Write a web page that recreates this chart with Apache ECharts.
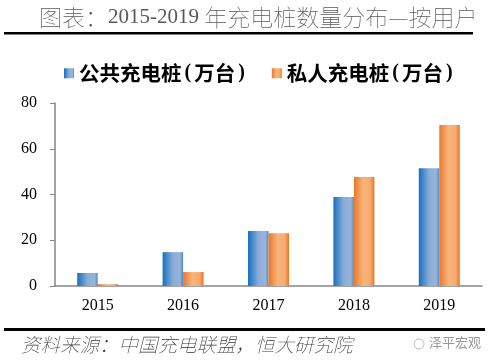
<!DOCTYPE html>
<html><head><meta charset="utf-8">
<script src="https://cdn.jsdelivr.net/npm/echarts@6/dist/echarts.min.js"></script>
<style>html,body{margin:0;padding:0;background:#fff;}#c{width:489px;height:362px;}</style>
</head><body><div id="c"></div>
<script>
const categories = ['2015', '2016', '2017', '2018', '2019'];
const publicPiles = [5.7, 14.8, 24.0, 38.9, 51.5];
const privatePiles = [0.8, 6.1, 23.1, 47.6, 70.4];
const seriesNames = ['公共充电桩(万台)', '私人充电桩(万台)'];
const yTicks = { min: 0, max: 80, interval: 20 };
const titleParts = ['图表：', '2015-2019 ', '年充电桩数量分布—按用户'];
const sourceText = '资料来源：中国充电联盟，恒大研究院';
const watermark = '泽平宏观';

const serif = '"Liberation Serif","Times New Roman","Noto Sans CJK SC",serif';
const cjk = '"Noto Sans CJK SC",sans-serif';
function grad(stops){
  return new echarts.graphic.LinearGradient(0,0,1,0, stops.map(c=>({offset:c[0],color:c[1]})));
}
const blueGrad = grad([[0,'#1570c0'],[0.5,'#8aacd7'],[0.85,'#98b4da'],[1,'#4f88c8']]);
const orangeGrad = grad([[0,'#e8782a'],[0.45,'#f8b47c'],[0.8,'#f6ab70'],[1,'#e6761f']]);

const chart = echarts.init(document.getElementById('c'), null, {renderer:'canvas'});
chart.setOption({
  animation: false,
  backgroundColor: '#fff',
  grid: { left: 55, right: 7, top: 103, bottom: 76 },
  legend: {
    left: 59, top: 58, itemWidth: 10, itemHeight: 10, itemGap: 27,
    icon: 'rect',
    formatter: function(name){
      const m = name.match(/^(.*)\((.*)\)$/);
      return '{a|' + m[1] + '}{p|(}{a|' + m[2] + '}{p|)}';
    },
    textStyle: {
      fontSize: 20, fontWeight: 'bold', color: '#000', fontFamily: cjk,
      rich: {
        a: { fontSize: 20.5, fontWeight: 'bold', color: '#000', fontFamily: cjk },
        p: { fontSize: 20, fontWeight: 'bold', color: '#000', fontFamily: serif, padding: [0, 3, 0, 3] }
      }
    },
    data: seriesNames
  },
  xAxis: {
    type: 'category', data: categories,
    axisLine: { lineStyle: { color: '#868686', width: 1.5 } },
    axisTick: { length: 5, lineStyle: { color: '#868686' } },
    axisLabel: { color: '#000', fontSize: 16, fontFamily: serif, margin: 12 }
  },
  yAxis: {
    type: 'value', min: yTicks.min, max: yTicks.max, interval: yTicks.interval,
    axisLine: { show: true, lineStyle: { color: '#868686', width: 1.5 } },
    axisTick: { show: true, length: 5, lineStyle: { color: '#868686' } },
    splitLine: { show: false },
    axisLabel: { color: '#000', fontSize: 16, fontFamily: serif, margin: 18 }
  },
  series: [
    { name: seriesNames[0], type: 'bar', data: publicPiles, barWidth: 20.5, barGap: '0%',
      itemStyle: { color: blueGrad } },
    { name: seriesNames[1], type: 'bar', data: privatePiles, barWidth: 20.5,
      itemStyle: { color: orangeGrad } }
  ],
  graphic: [
    { type: 'text', left: 39, top: 6, style: {
      text: '{a|' + titleParts[0] + '}{b|' + titleParts[1] + '}{a|' + titleParts[2] + '}',
      rich: {
        a: { fontSize: 23, fill: '#595959', color: '#595959', fontFamily: cjk, fontWeight: 'lighter' },
        b: { fontSize: 21, fill: '#595959', color: '#595959', fontFamily: serif }
      } } },
    { type: 'rect', shape: { x: 4, y: 32, width: 469, height: 2.5 }, style: { fill: '#000' } },
    { type: 'rect', shape: { x: 4, y: 328, width: 481, height: 3 }, style: { fill: '#000' } },
    { type: 'text', left: 21, top: 335, style: { text: sourceText, fontSize: 19.5, fill: '#333',
      fontStyle: 'italic', fontFamily: cjk, fontWeight: 'lighter' } },
    { type: 'circle', shape: { cx: 419, cy: 344, r: 5 }, style: { fill: 'none', stroke: '#bbb', lineWidth: 1 } },
    { type: 'text', left: 429, top: 336, style: { text: watermark, fontSize: 13, fill: '#999',
      fontFamily: cjk } }
  ]
});
</script></body></html>
